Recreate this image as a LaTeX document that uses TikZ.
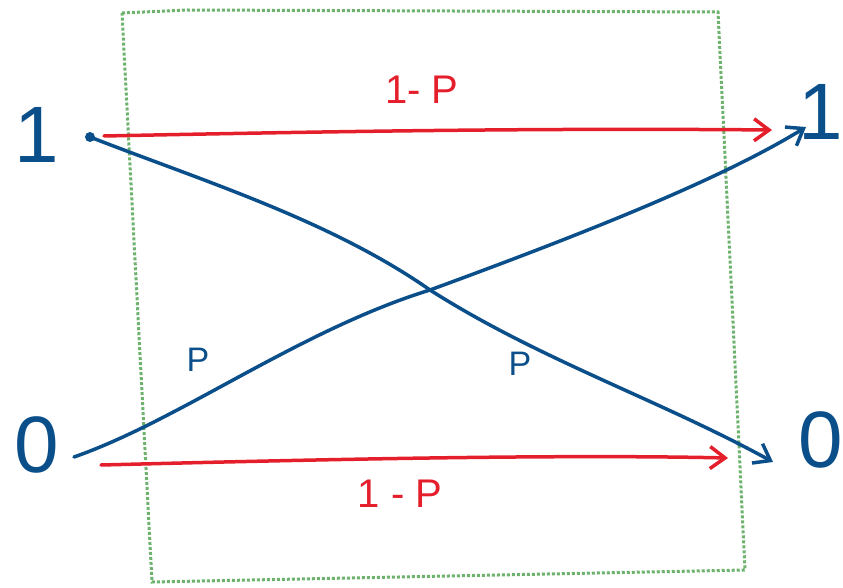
\documentclass[tikz,border=0pt]{standalone}
\usepackage{fontspec}
\setmainfont{Liberation Sans}
\usetikzlibrary{arrows.meta}
\definecolor{pblue}{HTML}{0B4F8A}
\definecolor{pred}{HTML}{E41E2B}
\definecolor{pgreen}{HTML}{6DB36D}
\tikzset{
  bluepath/.style={draw=pblue, line width=3.5pt, line cap=round, line join=round},
  redpath/.style={draw=pred, line width=3.5pt, line cap=round},
  tip/.style={-{Straight Barb[length=15pt,width=22pt,line width=3.5pt]}},
  boxline/.style={draw=pgreen, line width=3pt, dotted},
  bigtxt/.style={text=pblue, font=\fontsize{80}{80}\selectfont, inner sep=0pt},
  redlbl/.style={text=pred, font=\fontsize{40}{40}\selectfont, inner sep=0pt},
  bluelbl/.style={text=pblue, font=\fontsize{34}{34}\selectfont, inner sep=0pt},
}
\begin{document}
\begin{tikzpicture}[x=1pt,y=-1pt]
\useasboundingbox (0,0) rectangle (843,588);
\clip (0,0) rectangle (843,588);
% green box
\draw[boxline] (122,13) -- (187,10) -- (718,12) -- (745,570) -- (152,582) -- cycle;
% side labels
\node[bigtxt] (in1) at (37,135) {1};
\node[bigtxt] (in0) at (37,445) {0};
\node[bigtxt] (out1) at (821,112) {1};
\node[bigtxt] (out0) at (821,440) {0};
% points
\coordinate (s1) at (90,137);
\coordinate (s0) at (74,457);
\coordinate (r1s) at (104,136);
\coordinate (r1e) at (772,130);
\coordinate (r0s) at (101,465);
\coordinate (r0e) at (728,458);
\coordinate (b1e) at (773,462);
\coordinate (b0e) at (806,127);
\fill[pblue] (s1) circle (5pt);
% red arrows
\draw[redpath,tip] (r1s) .. controls (350,131) and (550,128) .. (r1e);
\draw[redpath,tip] (r0s) .. controls (300,460) and (550,454) .. (r0e);
% blue arrows
\draw[bluepath,tip] (s1) .. controls (200,180) and (330,220) .. (430,290) .. controls (540,360) and (660,400) .. (b1e);
\draw[bluepath,tip] (s0) .. controls (180,420) and (300,330) .. (430,290) .. controls (580,235) and (720,180) .. (b0e);
% labels
\node[redlbl] (l1) at (422,90) {1- P};
\node[redlbl] (l0) at (400,494) {1 - P};
\node[bluelbl] (p1) at (198,360) {P};
\node[bluelbl] (p2) at (520,364) {P};
\end{tikzpicture}
\end{document}
